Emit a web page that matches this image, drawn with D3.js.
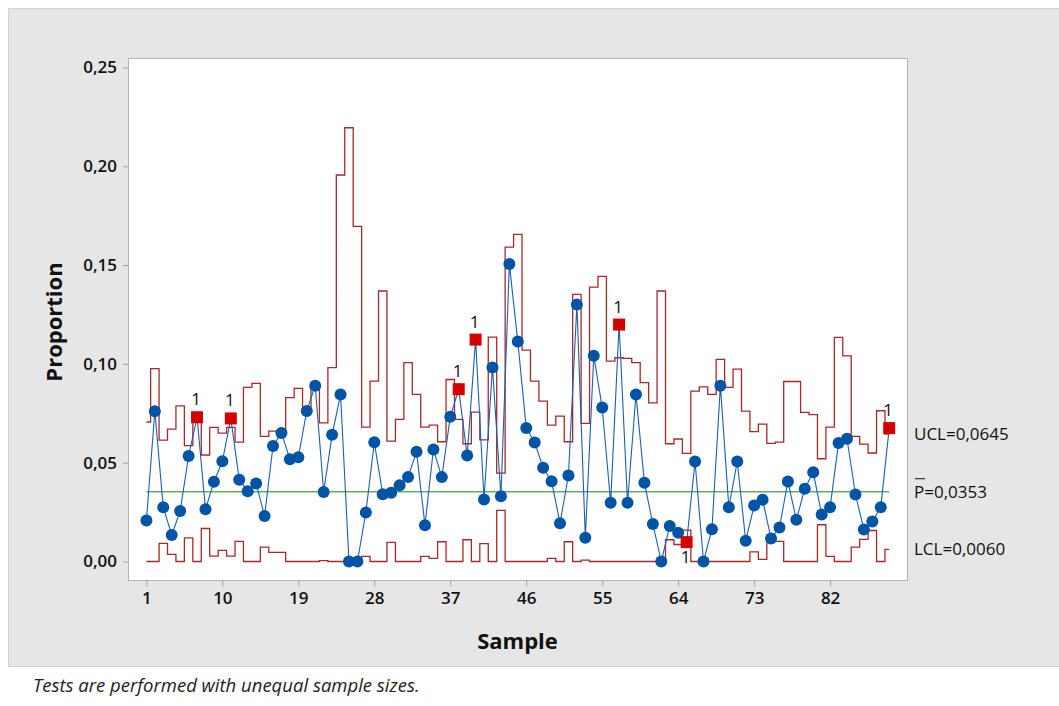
<!DOCTYPE html>
<html>
<head>
<meta charset="utf-8">
<script src="https://cdn.jsdelivr.net/npm/d3@7"></script>
<style>
  body { margin: 0; background: #fff; }
  svg { display: block; font-family: "Open Sans", "Noto Sans", sans-serif; }
</style>
</head>
<body>
<div id="chart"></div>
<script>
// proportion defective per sample
const proportion = [
  0.0208, 0.0760, 0.0274, 0.0134, 0.0255, 0.0534, 0.0730, 0.0264, 0.0404, 0.0507,
  0.0724, 0.0414, 0.0356, 0.0395, 0.0230, 0.0585, 0.0650, 0.0518, 0.0528, 0.0762,
  0.0890, 0.0352, 0.0641, 0.0845, 0.0000, 0.0000, 0.0248, 0.0603, 0.0340, 0.0348,
  0.0386, 0.0428, 0.0555, 0.0184, 0.0567, 0.0427, 0.0732, 0.0872, 0.0536, 0.1123,
  0.0314, 0.0982, 0.0330, 0.1505, 0.1113, 0.0676, 0.0602, 0.0474, 0.0406, 0.0194,
  0.0435, 0.1300, 0.0120, 0.1041, 0.0779, 0.0297, 0.1199, 0.0297, 0.0845, 0.0398,
  0.0190, 0.0000, 0.0180, 0.0145, 0.0098, 0.0506, 0.0000, 0.0163, 0.0890, 0.0274,
  0.0506, 0.0105, 0.0283, 0.0313, 0.0116, 0.0172, 0.0405, 0.0211, 0.0368, 0.0452,
  0.0238, 0.0275, 0.0600, 0.0621, 0.0339, 0.0162, 0.0202, 0.0275, 0.0675
];

// upper control limit per sample (unequal sample sizes)
const ucl = [
  0.0706, 0.0976, 0.0614, 0.0670, 0.0788, 0.0586, 0.0715, 0.0539, 0.0679, 0.0650,
  0.0679, 0.0604, 0.0881, 0.0901, 0.0633, 0.0660, 0.0660, 0.0829, 0.0876, 0.0781,
  0.0905, 0.0702, 0.0981, 0.1956, 0.2195, 0.1696, 0.0680, 0.0913, 0.1369, 0.0609,
  0.0719, 0.1006, 0.0846, 0.0680, 0.0690, 0.0606, 0.0921, 0.0719, 0.0596, 0.0756,
  0.0616, 0.1136, 0.0447, 0.1591, 0.1655, 0.1070, 0.0913, 0.0812, 0.0690, 0.0736,
  0.0606, 0.1352, 0.0699, 0.1389, 0.1443, 0.1014, 0.1031, 0.1028, 0.1006, 0.0905,
  0.0803, 0.1369, 0.0596, 0.0620, 0.0547, 0.0862, 0.0884, 0.0846, 0.1023, 0.0881,
  0.0974, 0.0761, 0.0657, 0.0695, 0.0598, 0.0604, 0.0911, 0.0911, 0.0755, 0.0743,
  0.0520, 0.0680, 0.1134, 0.1041, 0.0633, 0.0594, 0.0549, 0.0763, 0.0645
];

// lower control limit per sample
const lcl = [
  0, 0, 0.0092, 0.0036, 0, 0.0120, 0, 0.0167, 0.0027, 0.0056,
  0.0027, 0.0102, 0, 0, 0.0073, 0.0046, 0.0046, 0, 0, 0,
  0, 0.0004, 0, 0, 0, 0, 0.0026, 0, 0, 0.0097,
  0, 0, 0, 0.0026, 0.0016, 0.0100, 0, 0, 0.0110, 0,
  0.0090, 0, 0.0259, 0, 0, 0, 0, 0, 0.0016, 0,
  0.0100, 0, 0.0007, 0, 0, 0, 0, 0, 0, 0,
  0, 0, 0.0110, 0.0086, 0.0159, 0, 0, 0, 0, 0,
  0, 0, 0.0049, 0.0011, 0.0108, 0.0102, 0, 0, 0, 0,
  0.0186, 0.0026, 0, 0, 0.0073, 0.0112, 0.0157, 0, 0.0061
];

const pBar = 0.0353;
const flagged = [7, 11, 38, 40, 57, 65, 89];   // failed test 1
const flaggedBelow = [65];
const yTicks = [0, 0.05, 0.10, 0.15, 0.20, 0.25];
const xTicks = [1, 10, 19, 28, 37, 46, 55, 64, 73, 82];
const limitLabels = ['UCL=0,0645', 'P=0,0353', 'LCL=0,0060'];

const w = 1059;
const h = 706;
const plot = { left: 128, top: 58, right: 907, bottom: 580 };

const samples = proportion.map((d, i) => i + 1);

const x_scale = d3.scaleLinear()
    .domain([1, samples.length])
    .range([146.4, 889.2]);

const y_scale = d3.scaleLinear()
    .domain([0, 0.25])
    .range([561.5, 67.5]);

const svg = d3.select('#chart')
    .append('svg')
    .attr('width', w)
    .attr('height', h);

// grey graph region, white footnote strip below
svg.append('rect')
    .attr('x', 8.5).attr('y', 8.5)
    .attr('width', w - 8).attr('height', 658)
    .attr('fill', '#e6e6e6')
    .attr('stroke', '#d2d2d2');

svg.append('rect')
    .attr('x', plot.left + 0.5).attr('y', plot.top + 0.5)
    .attr('width', plot.right - plot.left).attr('height', plot.bottom - plot.top)
    .attr('fill', '#fff')
    .attr('stroke', '#b4b4b4');

// axes
const fmt = d => d3.format('.2f')(d).replace('.', ',');

const y_axis = svg.append('g')
    .attr('transform', `translate(${plot.left}, 0)`)
    .call(d3.axisLeft(y_scale).tickValues(yTicks).tickFormat(fmt).tickSize(5).tickPadding(6));

const x_axis = svg.append('g')
    .attr('transform', `translate(0, ${plot.bottom + 0.5})`)
    .call(d3.axisBottom(x_scale).tickValues(xTicks).tickFormat(d3.format('d')).tickSize(6).tickPadding(5));

[y_axis, x_axis].forEach(g => {
    g.select('.domain').remove();
    g.selectAll('.tick line').attr('stroke', '#a0a0a0');
    g.selectAll('.tick text')
        .attr('fill', '#111')
        .style('font-family', '"Open Sans", sans-serif')
        .style('font-size', '17px')
        .style('font-weight', '600');
});

svg.append('text')
    .attr('transform', `translate(62, ${(plot.top + plot.bottom) / 2 + 3}) rotate(-90)`)
    .attr('text-anchor', 'middle')
    .style('font-size', '22px')
    .style('font-weight', '700')
    .attr('fill', '#111')
    .text('Proportion');

svg.append('text')
    .attr('x', (plot.left + plot.right) / 2)
    .attr('y', 649)
    .attr('text-anchor', 'middle')
    .style('font-size', '22px')
    .style('font-weight', '700')
    .attr('fill', '#111')
    .text('Sample');

// control limits as step lines
const step = d3.line()
    .x((d, i) => x_scale(i + 1))
    .y(d => y_scale(d))
    .curve(d3.curveStep);

svg.append('path')
    .datum(ucl)
    .attr('d', step)
    .attr('fill', 'none')
    .attr('stroke', '#a52a2a')
    .attr('stroke-width', 1.3);

svg.append('path')
    .datum(lcl)
    .attr('d', step)
    .attr('fill', 'none')
    .attr('stroke', '#a52a2a')
    .attr('stroke-width', 1.3);

// center line
svg.append('line')
    .attr('x1', x_scale(1)).attr('x2', x_scale(samples.length))
    .attr('y1', y_scale(pBar)).attr('y2', y_scale(pBar))
    .attr('stroke', '#62ac62')
    .attr('stroke-width', 1.5);

// data line
const line = d3.line()
    .x((d, i) => x_scale(i + 1))
    .y(d => y_scale(d));

svg.append('path')
    .datum(proportion)
    .attr('d', line)
    .attr('fill', 'none')
    .attr('stroke', '#1b5fb5')
    .attr('stroke-width', 1.1);

const pts = samples.map((s, i) => ({ s: s, p: proportion[i] }));

svg.selectAll('circle.pt')
    .data(pts.filter(d => !flagged.includes(d.s)))
    .enter()
    .append('circle')
    .attr('class', 'pt')
    .attr('cx', d => x_scale(d.s))
    .attr('cy', d => y_scale(d.p))
    .attr('r', 6)
    .attr('fill', '#0054a6');

const bad = pts.filter(d => flagged.includes(d.s));

svg.selectAll('rect.bad')
    .data(bad)
    .enter()
    .append('rect')
    .attr('class', 'bad')
    .attr('x', d => x_scale(d.s) - 6)
    .attr('y', d => y_scale(d.p) - 6)
    .attr('width', 12)
    .attr('height', 12)
    .attr('fill', '#d40000');

svg.selectAll('text.flag')
    .data(bad)
    .enter()
    .append('text')
    .attr('class', 'flag')
    .attr('x', d => x_scale(d.s) - 1)
    .attr('y', d => flaggedBelow.includes(d.s) ? y_scale(d.p) + 21 : y_scale(d.p) - 12)
    .attr('text-anchor', 'middle')
    .style('font-size', '17px')
    .attr('fill', '#111')
    .text('1');

// limit labels on the right
const last = samples.length - 1;
const labelY = [ucl[last], pBar, lcl[last]];

svg.selectAll('text.lim')
    .data(limitLabels)
    .enter()
    .append('text')
    .attr('class', 'lim')
    .attr('x', 914)
    .attr('y', (d, i) => y_scale(labelY[i]) + 6)
    .style('font-size', '17px')
    .attr('fill', '#111')
    .text(d => d);

// bar over the P
svg.append('line')
    .attr('x1', 915).attr('x2', 925)
    .attr('y1', y_scale(pBar) - 13).attr('y2', y_scale(pBar) - 13)
    .attr('stroke', '#111')
    .attr('stroke-width', 1);

// footnote
svg.append('text')
    .attr('x', 33)
    .attr('y', 692)
    .style('font-size', '18.5px')
    .style('font-style', 'italic')
    .attr('fill', '#222')
    .text('Tests are performed with unequal sample sizes.');
</script>
</body>
</html>
